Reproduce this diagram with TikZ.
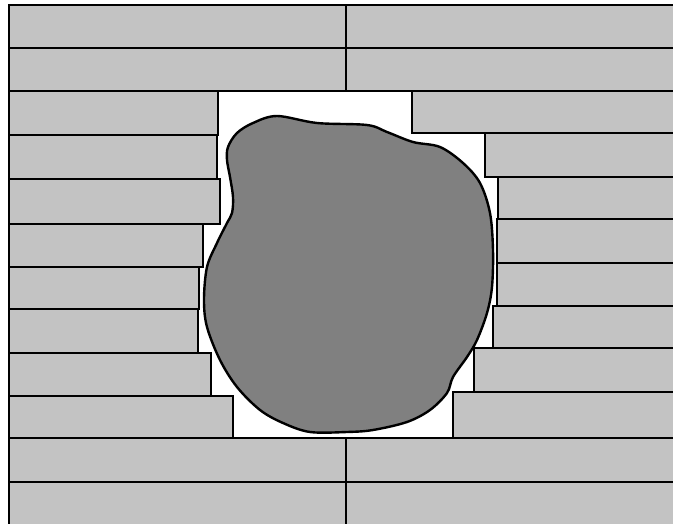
\documentclass[tikz,border=0pt]{standalone}
\definecolor{brickgray}{RGB}{195,195,195}
\definecolor{rockgray}{RGB}{128,128,128}
\begin{document}
\begin{tikzpicture}[x=1pt,y=-1pt,
  brick/.style={fill=brickgray,draw=black,line width=2.8pt},
  rock/.style={fill=rockgray,draw=black,line width=2.4pt}]
\useasboundingbox (0,0) rectangle (673,524);
\clip (0,0) rectangle (673,524);
\fill[white] (0,0) rectangle (673,524);
% full rows
\foreach \a/\b in {5/48,48/91,438/482,482/535}{
  \draw[brick] (9,\a) rectangle (346,\b);
  \draw[brick] (346,\a) rectangle (690,\b);
}
% left bricks
\foreach \a/\b/\r in {91/135/218,135/179/217,179/224/220,224/267/203,267/309/199,309/353/198,353/396/211,396/438/233}{
  \draw[brick] (9,\a) rectangle (\r,\b);
}
% right bricks
\foreach \a/\b/\l in {91/133/412,133/177/485,177/219/498,219/263/497,263/306/497,306/348/493,348/392/474,392/438/453}{
  \draw[brick] (\l,\a) rectangle (690,\b);
}
% rock
\draw[rock] plot[smooth cycle,tension=0.55] coordinates {
 (277,116) (317,123) (367,125) (387,132) (413,142) (440,147) (463,163)
 (480,183) (490,213) (493,250) (492,287) (487,313) (477,340) (467,357)
 (453,377) (447,393) (430,410) (407,422) (373,430) (347,432) (310,432)
 (283,423) (260,410) (237,387) (220,360) (207,327) (204,300) (207,267)
 (217,243) (227,223) (232,213) (233,197) (230,177) (227,160) (228,147)
 (237,133) (253,123)};
\end{tikzpicture}
\end{document}
